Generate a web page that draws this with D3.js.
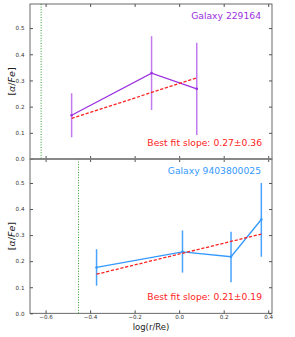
<!DOCTYPE html>
<html>
<head>
<meta charset="utf-8">
<script src="https://cdn.jsdelivr.net/npm/d3@7"></script>
<style>
  body { margin: 0; background: #fff; }
  text { font-family: "DejaVu Sans", sans-serif; }
</style>
</head>
<body>
<div id="chart"></div>
<script>
// Data
const xTicks = [-0.6, -0.4, -0.2, 0.0, 0.2, 0.4];
const yTicks = [0.0, 0.1, 0.2, 0.3, 0.4, 0.5];

const topRadius = [-0.483, -0.124, 0.079];
const topAlpha = [0.167, 0.328, 0.268];
const topLow = [0.083, 0.187, 0.092];
const topHigh = [0.251, 0.469, 0.444];
const topFit = [0.155, 0.310];
const topEdge = -0.62;
const topName = "Galaxy 229164";
const topSlope = "Best fit slope: 0.27±0.36";

const botRadius = [-0.371, 0.015, 0.233, 0.369];
const botAlpha = [0.176, 0.236, 0.217, 0.360];
const botLow = [0.106, 0.156, 0.119, 0.217];
const botHigh = [0.246, 0.318, 0.313, 0.500];
const botFit = [0.150, 0.304];
const botEdge = -0.452;
const botName = "Galaxy 9403800025";
const botSlope = "Best fit slope: 0.21±0.19";

const width = 295, height = 337;
const left = 30, right = 272;

const svg = d3.select("#chart").append("svg")
  .attr("width", width)
  .attr("height", height);

const x = d3.scaleLinear().domain([-0.67, 0.417]).range([left, right]);

const panels = [
  { top: 4, bottom: 159, radius: topRadius, alpha: topAlpha, low: topLow, high: topHigh,
    fit: topFit, edge: topEdge, name: topName, slope: topSlope, color: "#9b30e0", err: "#c27af0" },
  { top: 159, bottom: 313.3, radius: botRadius, alpha: botAlpha, low: botLow, high: botHigh,
    fit: botFit, edge: botEdge, name: botName, slope: botSlope, color: "#3399ff", err: "#4aa3ff" }
];

panels.forEach((p, i) => {
  const y = d3.scaleLinear().domain([0, 0.592]).range([p.bottom, p.top]);
  const g = svg.append("g");

  // dotted green marker
  g.append("line")
    .attr("x1", x(p.edge)).attr("x2", x(p.edge))
    .attr("y1", p.top).attr("y2", p.bottom)
    .attr("stroke", "#2a9a2a")
    .attr("stroke-width", 1)
    .attr("stroke-dasharray", "1,1.6");

  // error bars
  p.radius.forEach((r, k) => {
    g.append("line")
      .attr("x1", x(r)).attr("x2", x(r))
      .attr("y1", y(p.low[k])).attr("y2", y(p.high[k]))
      .attr("stroke", p.err)
      .attr("stroke-width", 1.5);
  });

  // data line
  const line = d3.line().x(d => x(d[0])).y(d => y(d[1]));
  g.append("path")
    .attr("d", line(p.radius.map((r, k) => [r, p.alpha[k]])))
    .attr("fill", "none")
    .attr("stroke", p.color)
    .attr("stroke-width", 1.3);

  g.selectAll(".pt")
    .data(p.radius)
    .enter().append("circle")
    .attr("cx", d => x(d))
    .attr("cy", (d, k) => y(p.alpha[k]))
    .attr("r", 1.3)
    .attr("fill", p.color);

  // best fit
  const xs = [p.radius[0], p.radius[p.radius.length - 1]];
  g.append("path")
    .attr("d", line(xs.map((r, k) => [r, p.fit[k]])))
    .attr("fill", "none")
    .attr("stroke", "#ff2222")
    .attr("stroke-width", 1.3)
    .attr("stroke-dasharray", "3.2,1.7");

  // axes with inward ticks
  const yAxis = d3.axisLeft(y).tickValues(yTicks).tickFormat(d3.format(".1f")).tickSizeInner(-3).tickSizeOuter(0).tickPadding(5.5);
  const gy = g.append("g").attr("transform", `translate(${left},0)`).call(yAxis);
  gy.select(".domain").remove();
  gy.selectAll("text").attr("font-size", 5.6).attr("fill", "#333");
  gy.selectAll("line").attr("stroke", "#555");

  const yRight = d3.axisRight(y).tickValues(yTicks).tickFormat("").tickSizeInner(-3).tickSizeOuter(0);
  const gyr = g.append("g").attr("transform", `translate(${right},0)`).call(yRight);
  gyr.select(".domain").remove();
  gyr.selectAll("line").attr("stroke", "#555");

  const xBottom = d3.axisBottom(x).tickValues(xTicks).tickSizeInner(-3).tickSizeOuter(0).tickPadding(2)
    .tickFormat(i === 1 ? (d => d3.format(".1f")(d).replace("-", "\u2212")) : "");
  const gxb = g.append("g").attr("transform", `translate(0,${p.bottom})`).call(xBottom);
  gxb.select(".domain").remove();
  gxb.selectAll("text").attr("font-size", 5.6).attr("fill", "#333");
  gxb.selectAll("line").attr("stroke", "#555");

  const xTop = d3.axisTop(x).tickValues(xTicks).tickFormat("").tickSizeInner(-3).tickSizeOuter(0);
  const gxt = g.append("g").attr("transform", `translate(0,${p.top})`).call(xTop);
  gxt.select(".domain").remove();
  gxt.selectAll("line").attr("stroke", "#555");

  // frame
  g.append("rect")
    .attr("x", left).attr("y", p.top)
    .attr("width", right - left).attr("height", p.bottom - p.top)
    .attr("fill", "none")
    .attr("stroke", "#444")
    .attr("stroke-width", 0.8);

  // y label
  g.append("text")
    .attr("transform", `translate(15,${(p.top + p.bottom) / 2}) rotate(-90)`)
    .attr("text-anchor", "middle")
    .attr("font-size", 9.5)
    .attr("fill", "#222")
    .html('[<tspan font-style="italic">α</tspan>/<tspan font-style="italic">Fe</tspan>]');

  // annotations
  g.append("text")
    .attr("x", 261).attr("y", p.top + 15)
    .attr("text-anchor", "end")
    .attr("font-size", 9.2)
    .attr("fill", p.color)
    .text(p.name);

  g.append("text")
    .attr("x", 262).attr("y", p.bottom - 13.5)
    .attr("text-anchor", "end")
    .attr("font-size", 9.2)
    .attr("fill", "#ff2222")
    .text(p.slope);
});

// zero line shared between the panels
svg.append("line")
  .attr("x1", left).attr("x2", right)
  .attr("y1", 159).attr("y2", 159)
  .attr("stroke", "#888")
  .attr("stroke-width", 1.4);

// x label
svg.append("text")
  .attr("x", 151)
  .attr("y", 330)
  .attr("text-anchor", "middle")
  .attr("font-size", 8.5)
  .attr("fill", "#222")
  .text("log(r/Re)");
</script>
</body>
</html>
